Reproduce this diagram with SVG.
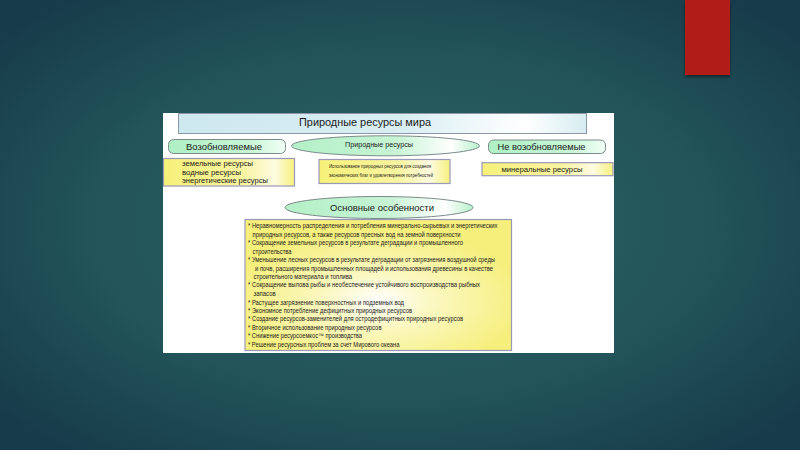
<svg xmlns="http://www.w3.org/2000/svg" width="800" height="450" viewBox="0 0 800 450">
<defs>
<radialGradient id="bg" cx="0.5" cy="0.5" r="0.65">
<stop offset="0" stop-color="#2c6466"/>
<stop offset="0.6" stop-color="#225459"/>
<stop offset="1" stop-color="#173b4a"/>
</radialGradient>
<linearGradient id="blue" x1="0" y1="0" x2="1" y2="0">
<stop offset="0" stop-color="#cde8ef"/>
<stop offset="0.55" stop-color="#d9eef3"/>
<stop offset="0.85" stop-color="#ffffff"/>
<stop offset="1" stop-color="#d6ecf1"/>
</linearGradient>
<linearGradient id="green" x1="0" y1="0" x2="1" y2="0">
<stop offset="0" stop-color="#aef0c4"/>
<stop offset="0.7" stop-color="#c8f6d6"/>
<stop offset="1" stop-color="#f2fff6"/>
</linearGradient>
<linearGradient id="greenEl" x1="0" y1="0" x2="1" y2="0">
<stop offset="0" stop-color="#b4f0c8"/>
<stop offset="0.55" stop-color="#c6f4d4"/>
<stop offset="0.85" stop-color="#ffffff"/>
<stop offset="1" stop-color="#b8f0cb"/>
</linearGradient>
<linearGradient id="yellow" x1="0" y1="0" x2="1" y2="0">
<stop offset="0" stop-color="#f7f17a"/>
<stop offset="0.6" stop-color="#f9f4a0"/>
<stop offset="0.85" stop-color="#fdfbe0"/>
<stop offset="1" stop-color="#f7f17e"/>
</linearGradient>
<radialGradient id="bigYellow" cx="0.5" cy="0.62" r="0.55">
<stop offset="0" stop-color="#ffffff"/>
<stop offset="0.35" stop-color="#fbf8c4"/>
<stop offset="1" stop-color="#f6ef7c"/>
</radialGradient>
<filter id="shadow" x="-30%" y="-10%" width="160%" height="130%">
<feDropShadow dx="0" dy="2" stdDeviation="1.5" flood-color="#000" flood-opacity="0.45"/>
</filter>
</defs>
<style>
text { font-family: "Liberation Sans", Arial, sans-serif; fill: #1a1a1a; }
.box { stroke: #8d95b0; stroke-width: 1; }
.pill { fill: url(#green); stroke: #7b8a8a; stroke-width: 1; }
.ell { fill: url(#greenEl); stroke: #7b8a8a; stroke-width: 1; }
.yel { fill: url(#yellow); stroke: #9a98b8; stroke-width: 1.2; }
.hdr { font-size: 9.5px; }
.sm { font-size: 7px; }
.li { font-size: 6.3px; }
</style>
<rect x="0" y="0" width="800" height="450" fill="url(#bg)"/>
<rect x="685" y="0" width="45" height="75" fill="#b11a17" filter="url(#shadow)"/>
<rect x="163" y="113" width="451" height="240" fill="#ffffff"/>

<g id="title">
<rect x="178.5" y="113.5" width="408" height="20" fill="url(#blue)" stroke="#8d97a6" stroke-width="1"/>
<text x="365" y="125.5" text-anchor="middle" font-size="10.5" textLength="132" lengthAdjust="spacingAndGlyphs">Природные ресурсы мира</text>
</g>

<g id="renewable">
<rect class="pill" x="168.5" y="139.5" width="117" height="14" rx="5"/>
<text class="hdr" x="186" y="150" textLength="76" lengthAdjust="spacingAndGlyphs">Возобновляемые</text>
</g>

<g id="natural-resources">
<ellipse class="ell" cx="385.5" cy="145.8" rx="94" ry="10"/>
<text x="379" y="146.5" text-anchor="middle" font-size="8" textLength="68" lengthAdjust="spacingAndGlyphs">Природные ресурсы</text>
</g>

<g id="nonrenewable">
<rect class="pill" x="488.5" y="140" width="117" height="13.5" rx="5"/>
<text class="hdr" x="497.5" y="149.5" textLength="88" lengthAdjust="spacingAndGlyphs">Не возобновляемые</text>
</g>

<g id="renewable-list">
<rect class="yel" x="163.5" y="158.5" width="131" height="27.5"/>
<text class="sm" x="182" y="166" textLength="71" lengthAdjust="spacingAndGlyphs">земельные ресурсы</text>
<text class="sm" x="182" y="174.5" textLength="59" lengthAdjust="spacingAndGlyphs">водные ресурсы</text>
<text class="sm" x="182" y="183.3" textLength="86" lengthAdjust="spacingAndGlyphs">энергетические ресурсы</text>
</g>

<g id="usage">
<rect class="yel" x="319" y="159.5" width="131" height="24"/>
<text x="329" y="168" font-size="6" textLength="102" lengthAdjust="spacingAndGlyphs">Использование природных ресурсов для  создания</text>
<text x="329" y="177" font-size="6" textLength="104" lengthAdjust="spacingAndGlyphs">экономических благ и удовлетворения потребностей</text>
</g>

<g id="nonrenewable-list">
<rect class="yel" x="482" y="162.7" width="131" height="13"/>
<text class="sm" x="501.5" y="171.5" textLength="81" lengthAdjust="spacingAndGlyphs">минеральные ресурсы</text>
</g>

<g id="features-title">
<ellipse class="ell" cx="379" cy="207.5" rx="94" ry="11"/>
<text x="382" y="211" text-anchor="middle" font-size="9.5" textLength="104" lengthAdjust="spacingAndGlyphs">Основные особенности</text>
</g>

<g id="features">
<rect x="245" y="219.5" width="266.5" height="131" fill="url(#bigYellow)" stroke="#9a98b8" stroke-width="1.2"/>
<text class="li" x="248" y="228" textLength="249.5" lengthAdjust="spacingAndGlyphs">* Неравномерность распределения и потребления минерально-сырьевых и энергетических</text>
<text class="li" x="252.6" y="236.6" textLength="208" lengthAdjust="spacingAndGlyphs">природных ресурсов, а также ресурсов пресных вод на земной поверхности</text>
<text class="li" x="248" y="245.2" textLength="215" lengthAdjust="spacingAndGlyphs">* Сокращение земельных ресурсов в результате деградации и промышленного</text>
<text class="li" x="252.6" y="253.6" textLength="39" lengthAdjust="spacingAndGlyphs">строительства</text>
<text class="li" x="248" y="262" textLength="247" lengthAdjust="spacingAndGlyphs">* Уменьшение лесных ресурсов в результате деградации от загрязнения воздушной среды</text>
<text class="li" x="255" y="270.5" textLength="238" lengthAdjust="spacingAndGlyphs">и почв, расширения промышленных площадей и использования древесины в качестве</text>
<text class="li" x="253.6" y="279" textLength="98.5" lengthAdjust="spacingAndGlyphs">строительного материала и топлива</text>
<text class="li" x="248" y="287.3" textLength="232" lengthAdjust="spacingAndGlyphs">* Сокращение вылова рыбы и необеспечение устойчивого воспроизводства рыбных</text>
<text class="li" x="253.6" y="296" textLength="22" lengthAdjust="spacingAndGlyphs">запасов</text>
<text class="li" x="248" y="304.5" textLength="156" lengthAdjust="spacingAndGlyphs">* Растущее загрязнение поверхностных и подземных вод</text>
<text class="li" x="248" y="313" textLength="164" lengthAdjust="spacingAndGlyphs">* Экономное потребление дефицитных природных ресурсов</text>
<text class="li" x="248" y="321.3" textLength="215" lengthAdjust="spacingAndGlyphs">* Создание ресурсов-заменителей для остродефицитных природных ресурсов</text>
<text class="li" x="248" y="330" textLength="133.5" lengthAdjust="spacingAndGlyphs">* Вторичное использование природных ресурсов</text>
<text class="li" x="248" y="338.3" textLength="114" lengthAdjust="spacingAndGlyphs">* Снижение ресурсоемкос™ производства</text>
<text class="li" x="248" y="346.6" textLength="151.5" lengthAdjust="spacingAndGlyphs">* Решение ресурсных проблем за счет Мирового океана</text>
</g>
<g id="connectors"/>
</svg>
